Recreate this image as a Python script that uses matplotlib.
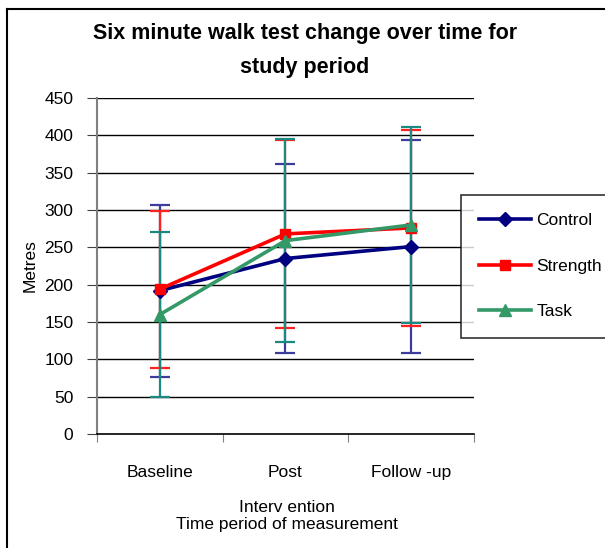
import numpy as np
import matplotlib.pyplot as plt
from matplotlib.lines import Line2D

plt.rcParams['font.family'] = ['Liberation Sans', 'DejaVu Sans']

# -----------------------------
# Data
# -----------------------------
periods = ['Baseline', 'Post', 'Follow -up']
groups = ['Control', 'Strength', 'Task']

control_mean = [192, 235, 251]
strength_mean = [194, 268, 276]
task_mean = [160, 259, 280]

control_sd = [115, 127, 143]
strength_sd = [105, 126, 131]
task_sd = [111, 136, 131]

# -----------------------------
# Styles
# -----------------------------
line_colors = ['#000080', '#ff0000', '#339966']
err_colors = ['#3c3c9c', '#ff2020', '#1a8a80']
markers = ['D', 's', '^']
msizes = [7, 7, 8]

fig = plt.figure(figsize=(6.05, 5.48), dpi=100)
ax = fig.add_axes([97 / 605, 1 - 434 / 548, (474 - 97) / 605, (434 - 98) / 548])

x = np.arange(len(periods))
means = [control_mean, strength_mean, task_mean]
sds = [control_sd, strength_sd, task_sd]

for m, s, ec in zip(means, sds, err_colors):
    ax.errorbar(x, m, yerr=s, fmt='none', ecolor=ec, elinewidth=1.6,
                capsize=7, capthick=1.6, zorder=3)

for m, lc, mk, ms, name in zip(means, line_colors, markers, msizes, groups):
    ax.plot(x, m, color=lc, lw=2.6, marker=mk, markersize=ms, label=name, zorder=4)

# -----------------------------
# Axes formatting
# -----------------------------
ax.set_xlim(-0.5, 2.5)
ax.set_ylim(0, 450)
ax.set_yticks(np.arange(0, 451, 50))
ax.set_xticks([-0.5, 0.5, 1.5, 2.5])
ax.set_xticklabels([])
ax.set_xticks(x, minor=True)
ax.set_xticklabels(periods, minor=True)
ax.tick_params(axis='x', which='minor', length=0, pad=22, labelsize=12.5)
ax.tick_params(axis='x', which='major', length=6, color='#808080', direction='out')
ax.tick_params(axis='y', length=7, color='#404040', labelsize=12.5, pad=10)

for yv in np.arange(50, 451, 50):
    ax.axhline(yv, color='black', lw=1, zorder=1)

ax.spines['top'].set_visible(False)
ax.spines['right'].set_visible(False)
ax.spines['left'].set_color('#808080')
ax.spines['left'].set_linewidth(1.5)
ax.spines['bottom'].set_color('black')
ax.spines['bottom'].set_linewidth(1.2)

ax.set_ylabel('Metres', fontsize=12.5, labelpad=5)

fig.text(287 / 605, 1 - 508 / 548, 'Interv ention', ha='center', va='center', fontsize=12.5)
fig.text(287 / 605, 1 - 524 / 548, 'Time period of measurement', ha='center', va='center', fontsize=12.5)

fig.text(305 / 605, 1 - 33 / 548, 'Six minute walk test change over time for',
         ha='center', va='center', fontsize=15.5, fontweight='bold')
fig.text(305 / 605, 1 - 68 / 548, 'study period',
         ha='center', va='center', fontsize=15.5, fontweight='bold')

leg = fig.legend(loc='upper left', bbox_to_anchor=(461 / 605, 1 - 195 / 548),
                 fontsize=12.5, frameon=True, fancybox=False, handlelength=3.0,
                 handletextpad=0.3, labelspacing=1.75, borderpad=1.05,
                 borderaxespad=0)
leg.get_frame().set_edgecolor('black')
leg.get_frame().set_linewidth(1.2)

# outer border (left and top edges visible)
fig.add_artist(Line2D([7 / 605, 7 / 605], [0, 1 - 9 / 548], color='black', lw=1.5))
fig.add_artist(Line2D([7 / 605, 1], [1 - 9 / 548, 1 - 9 / 548], color='black', lw=1.5))

fig.savefig('out.png', dpi=100)
